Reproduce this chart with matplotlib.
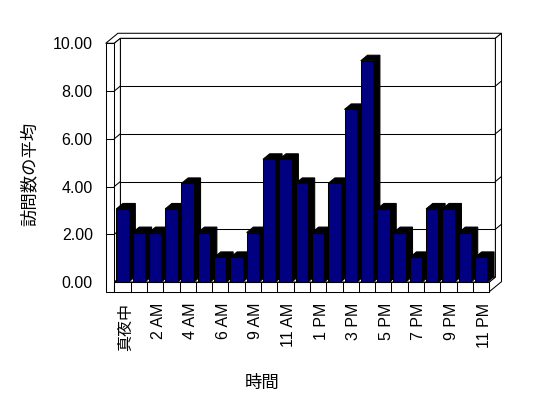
import matplotlib
matplotlib.use("Agg")
import matplotlib.pyplot as plt
from matplotlib.patches import Polygon
from matplotlib.lines import Line2D
import matplotlib.transforms as mtransforms

plt.rcParams['font.family'] = ['Liberation Sans', 'Noto Sans CJK JP', 'DejaVu Sans']

# ---- data ----
categories = ['真夜中', '1 AM', '2 AM', '3 AM', '4 AM', '5 AM', '6 AM', '7 AM',
              '9 AM', '10 AM', '11 AM', '正午', '1 PM', '2 PM', '3 PM', '4 PM',
              '5 PM', '6 PM', '7 PM', '8 PM', '9 PM', '10 PM', '11 PM']
values = [3.06, 2.07, 2.07, 3.06, 4.13, 2.07, 1.03, 1.03, 2.07, 5.14, 5.14, 4.13,
          2.07, 4.13, 7.23, 9.27, 3.06, 2.07, 1.03, 3.06, 3.06, 2.07, 1.03]
y_ticks = [0, 2, 4, 6, 8, 10]
y_label = '訪問数の平均'
x_label = '時間'

# ---- style ----
NAVY = '#000080'
LW = 0.75
DDX, DDY = 0.374, 0.21      # depth projection per depth unit (data units)
TW = 0.527                  # left wall thickness (x units)
TF = 0.406                  # floor thickness (value units)
BAR_W = 0.76
BAR_DEPTH = 1.1

fig = plt.figure(figsize=(5.48, 3.98), dpi=100)
ax = fig.add_axes([114.3 / 548, (398 - 282) / 398, 375 / 548, 238.7 / 398])
n = len(categories)
XL, XR = -0.5, n - 0.5
YT, YB = y_ticks[-1], -TF
XLo = XL - TW
ax.set_xlim(XL, XR)
ax.set_ylim(0, YT)
for s in ax.spines.values():
    s.set_visible(False)
ax.patch.set_visible(False)


def P(X, Y, Z):
    return (X + Z * DDX, Y + Z * DDY)


def face(pts, fc='white', z=1):
    ax.add_patch(Polygon(pts, closed=True, facecolor=fc, edgecolor='black',
                         lw=LW, clip_on=False, zorder=z, joinstyle='miter'))


def seg(a, b, z=1.5):
    ax.add_line(Line2D([a[0], b[0]], [a[1], b[1]], color='black', lw=LW,
                       clip_on=False, zorder=z))


# back wall front face
face([P(XL, 0, 1), P(XR, 0, 1), P(XR, YT, 1), P(XL, YT, 1)])
# top faces (left wall + back wall)
face([P(XLo, YT, 0), P(XL, YT, 0), P(XL, YT, 1), P(XR, YT, 1), P(XR, YT, 2), P(XLo, YT, 2)])
# right side faces (back wall + floor)
face([P(XR, YT, 1), P(XR, YT, 2), P(XR, YB, 2), P(XR, YB, 0), P(XR, 0, 0), P(XR, 0, 1)])
# floor top
face([P(XL, 0, 0), P(XR, 0, 0), P(XR, 0, 1), P(XL, 0, 1)])
# left wall inner face
face([P(XL, 0, 0), P(XL, 0, 1), P(XL, YT, 1), P(XL, YT, 0)])
# left wall front face
face([P(XLo, YB, 0), P(XL, YB, 0), P(XL, YT, 0), P(XLo, YT, 0)])
# floor front face
face([P(XL, YB, 0), P(XR, YB, 0), P(XR, 0, 0), P(XL, 0, 0)])

# gridlines
for yv in y_ticks[1:-1]:
    seg(P(XL, yv, 1), P(XR, yv, 1))
    seg(P(XL, yv, 0), P(XL, yv, 1))
    seg(P(XR, yv, 1), P(XR, yv, 2))
    seg(P(XLo, yv, 0), P(XL, yv, 0))
# floor category ticks
for k in range(n + 1):
    xb = XL + k
    seg(P(xb, YB, 0), P(xb, 0, 0))

# bars
bdx, bdy = DDX * BAR_DEPTH, DDY * BAR_DEPTH
for i, v in enumerate(values):
    x0, x1 = i - BAR_W / 2, i + BAR_W / 2
    zb = 3 + i * 0.01
    ax.add_patch(Polygon([(x0, v), (x0 + bdx, v + bdy), (x1 + bdx, v + bdy),
                          (x1 + bdx, bdy), (x1, 0), (x1, v)], closed=True,
                         facecolor='black', edgecolor='black', lw=LW,
                         clip_on=False, zorder=zb))
bars = ax.bar(range(n), values, width=BAR_W, color=NAVY, edgecolor='black',
              linewidth=LW, zorder=3)
for i, b in enumerate(bars):
    b.set_zorder(3 + i * 0.01 + 0.005)
    b.set_clip_on(False)

# ticks
ax.set_yticks(y_ticks)
ax.set_yticklabels([f'{t:.2f}' for t in y_ticks])
ax.tick_params(axis='y', length=0, pad=15.5, labelsize=11.5)
tick_idx = list(range(0, n, 2))
ax.set_xticks(tick_idx)
ax.set_xticklabels([categories[i] for i in tick_idx], rotation=90,
                   ha='center', va='top')
ax.tick_params(axis='x', length=0, pad=15, labelsize=11.5)
off = mtransforms.ScaledTranslation(3 / 100, 0, fig.dpi_scale_trans)
for lab in ax.get_xticklabels():
    lab.set_transform(lab.get_transform() + off)

ax.set_ylabel(y_label, fontsize=12.5, va='center')
ax.yaxis.set_label_coords(-0.227, 0.4516)
ax.set_xlabel(x_label, fontsize=12.5, va='center')
ax.xaxis.set_label_coords(0.394, -0.422)

fig.savefig('out.png', dpi=100)
